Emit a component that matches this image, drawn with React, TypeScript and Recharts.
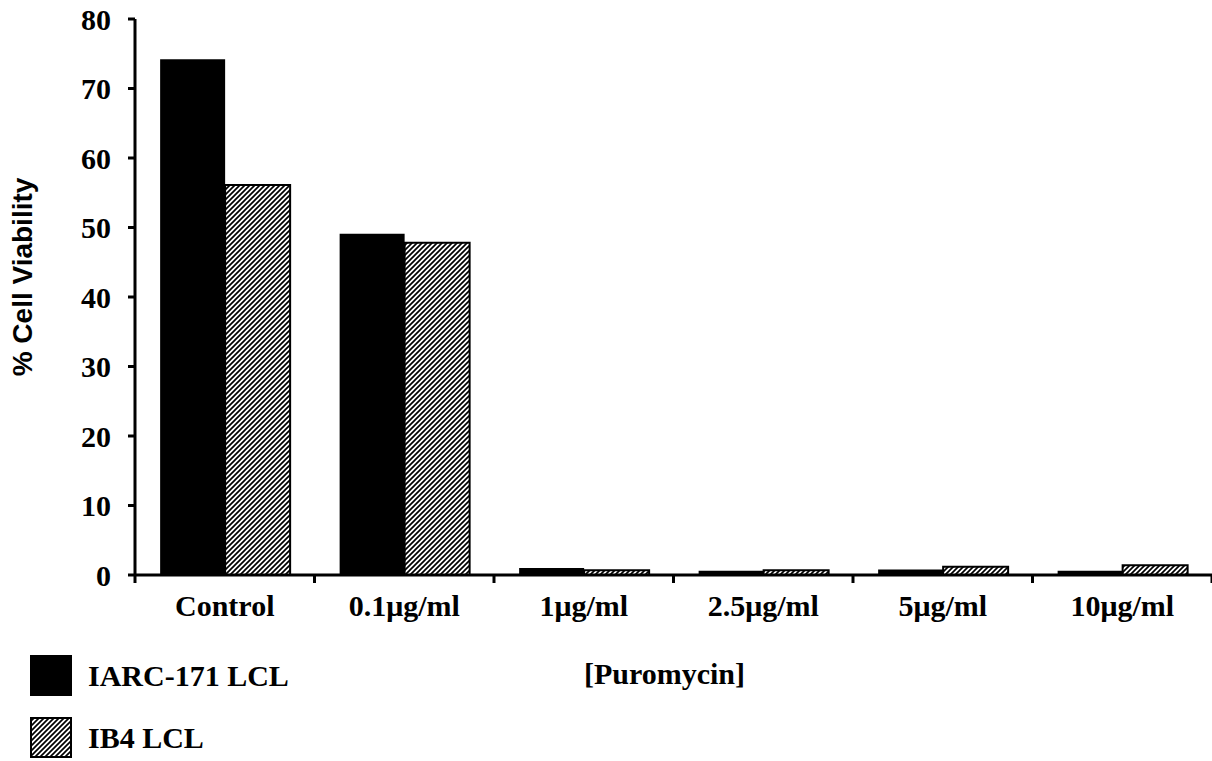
import React from 'react';
import { BarChart, Bar, XAxis, YAxis, Legend } from 'recharts';

const categories = ['Control', '0.1μg/ml', '1μg/ml', '2.5μg/ml', '5μg/ml', '10μg/ml'];
const iarc171Values = [74.2, 49.1, 1.0, 0.6, 0.8, 0.6];
const ib4Values = [56.1, 47.8, 0.7, 0.7, 1.2, 1.4];
const yTicks = [0, 10, 20, 30, 40, 50, 60, 70, 80];

const data = categories.map((name, i) => ({
  name,
  iarc171: iarc171Values[i],
  ib4: ib4Values[i],
}));

const serif = "'Liberation Serif', 'Times New Roman', serif";
const sans = "'Liberation Sans', Arial, sans-serif";

function Hatch({ id }: { id: string }) {
  return (
    <pattern id={id} patternUnits="userSpaceOnUse" width={5} height={5}>
      <rect width={5} height={5} fill="#fff" />
      <path d="M-1,1 l2,-2 M0,5 l5,-5 M4,6 l2,-2" stroke="#000" strokeWidth={1.7} />
    </pattern>
  );
}

function CategoryTick(props: any) {
  const { x, y, payload, index } = props;
  const half = payload.offset ?? 0;
  const last = index === categories.length - 1;
  return (
    <g>
      <line x1={x - half} x2={x - half} y1={y} y2={y + 8} stroke="#000" strokeWidth={3} />
      {last && <line x1={x + half} x2={x + half} y1={y} y2={y + 8} stroke="#000" strokeWidth={3} />}
      <text x={x} y={y + 41} textAnchor="middle" fill="#000" fontFamily={serif} fontWeight="bold" fontSize={30}>
        {payload.value}
      </text>
    </g>
  );
}

function LegendBox(props: any) {
  const items = props.payload || [];
  return (
    <div style={{ fontFamily: serif, fontWeight: 'bold', fontSize: 30 }}>
      {items.map((item: any) => {
        const hatched = item.dataKey === 'ib4';
        return (
          <div key={item.dataKey} style={{ display: 'flex', alignItems: 'center', height: 41, marginBottom: 21 }}>
            <svg width={42} height={41} style={{ marginRight: 16 }}>
              <defs>
                <Hatch id="legendHatch" />
              </defs>
              <rect x={1} y={1} width={40} height={39} fill={hatched ? 'url(#legendHatch)' : '#000'} stroke="#000" strokeWidth={2} />
            </svg>
            <span>{item.value}</span>
          </div>
        );
      })}
    </div>
  );
}

export default function App() {
  return (
    <div style={{ position: 'absolute', left: 0, top: 0, background: '#fff' }}>
      <BarChart
        width={1212}
        height={761}
        data={data}
        margin={{ top: 19, right: 0, left: 0, bottom: 126 }}
        barCategoryGap="14%"
        barGap={0}
      >
        <defs>
          <Hatch id="barHatch" />
        </defs>
        <XAxis
          dataKey="name"
          height={60}
          axisLine={{ stroke: '#000', strokeWidth: 3 }}
          tickLine={false}
          tickSize={0}
          tickMargin={0}
          interval={0}
          tick={<CategoryTick />}
          label={{
            content: (p: any) => {
              const vb = p.viewBox;
              return (
                <text
                  x={vb.x + vb.width / 2 - 9}
                  y={vb.y + 109}
                  textAnchor="middle"
                  fill="#000"
                  fontFamily={serif}
                  fontWeight="bold"
                  fontSize={30}
                >
                  [Puromycin]
                </text>
              );
            },
          }}
        />
        <YAxis
          width={135}
          domain={[0, 80]}
          ticks={yTicks}
          interval={0}
          axisLine={{ stroke: '#000', strokeWidth: 3 }}
          tickLine={{ stroke: '#000', strokeWidth: 3 }}
          tickSize={7}
          tickMargin={17}
          tick={{ fill: '#000', fontFamily: serif, fontWeight: 'bold', fontSize: 30 }}
          label={{
            content: (p: any) => {
              const vb = p.viewBox;
              const cx = vb.x + 22;
              const cy = vb.y + vb.height / 2 - 20;
              return (
                <text
                  x={cx}
                  y={cy}
                  transform={`rotate(-90 ${cx} ${cy})`}
                  textAnchor="middle"
                  dominantBaseline="central"
                  fill="#000"
                  fontFamily={sans}
                  fontWeight="bold"
                  fontSize={28}
                >
                  % Cell Viability
                </text>
              );
            },
          }}
        />
        <Legend
          layout="vertical"
          verticalAlign="middle"
          align="center"
          content={<LegendBox />}
          wrapperStyle={{ left: 30, top: 655, width: 400 }}
        />
        <Bar dataKey="iarc171" name="IARC-171 LCL" fill="#000" isAnimationActive={false} />
        <Bar dataKey="ib4" name="IB4 LCL" fill="url(#barHatch)" stroke="#000" strokeWidth={2} isAnimationActive={false} />
      </BarChart>
    </div>
  );
}
